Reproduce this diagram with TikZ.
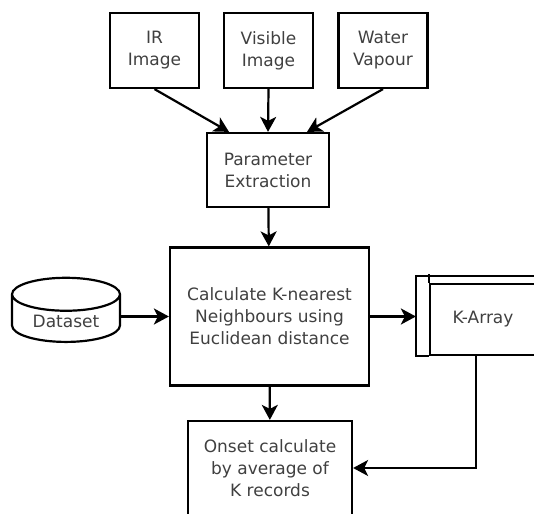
\documentclass[tikz,border=0pt]{standalone}
\usepackage{fontspec}
\setmainfont{DejaVu Sans}
\usetikzlibrary{arrows.meta,shapes.geometric}

\tikzset{
    box/.style={draw, line width=2.2pt, align=center, text=black!75,
        font=\fontsize{17}{22}\selectfont},
    arr/.style={line width=2.2pt, -{Stealth[length=15pt,width=16pt,inset=4pt]}}
}

\begin{document}
\begin{tikzpicture}[x=1pt,y=1pt]
    \useasboundingbox (0,0) rectangle (534,513);
    \clip (0,0) rectangle (534,513);

    \foreach \n/\x/\t in {ir/154.5/{IR\\Image},vis/268.5/{Visible\\Image},wv/383/{Water\\Vapour}}
        {\node[box, minimum width=89pt, minimum height=75pt] (\n) at (\x,462.5) {\t};}

    \node[box, minimum width=122pt, minimum height=74pt] (param) at (268,343) {Parameter\\Extraction};
    \node[box, minimum width=199pt, minimum height=138pt] (calc) at (269.5,196.5)
        {Calculate K-nearest\\Neighbours using\\Euclidean distance};
    \node[box, cylinder, shape border rotate=90, aspect=0.45,
        minimum width=108pt, minimum height=59pt] (data) at (66,191.5) {\raisebox{-4pt}{Dataset}};
    \node[box, minimum width=106pt, minimum height=71pt] (karr) at (483,193.5) {K-Array};
    \node[box, minimum width=164pt, minimum height=94pt] (onset) at (270,45)
        {Onset calculate\\by average of\\K records};

    % outer frame of the array box
    \coordinate (karrw) at ([xshift=-13pt]karr.west);
    \draw[line width=2.2pt] (karr.south west) -- ++(-13,0) -- ++(0,80) -- ++(130,0);
    \draw[line width=2.2pt] (karr.north west) -- ++(0,9);

    \foreach \n/\d in {ir/-39,vis/0,wv/39}
        {\draw[arr] (\n.south) -- ([xshift=\d pt]param.north);}
    \draw[arr] (param) -- (calc);
    \draw[arr] (data.east |- calc.west) -- (calc.west);
    \draw[arr] (calc.east) -- (calc.east -| karrw);
    \draw[arr] (calc) -- (onset);
    \draw[arr] ([xshift=-7pt]karr.south) |- (onset.east);
\end{tikzpicture}
\end{document}
